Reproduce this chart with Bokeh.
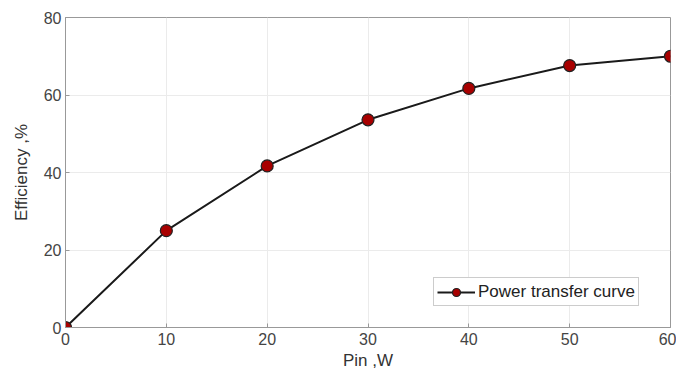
from bokeh.plotting import figure
from bokeh.models import Range1d, FixedTicker, Legend, LegendItem
from bokeh.embed import file_html
from bokeh.resources import INLINE

pin_w = [0, 10, 20, 30, 40, 50, 60]
efficiency = [0, 25, 41.7, 53.6, 61.7, 67.6, 70]
x_ticks = [0, 10, 20, 30, 40, 50, 60]
y_ticks = [0, 20, 40, 60, 80]

p = figure(width=676, height=373, output_backend="svg", toolbar_location=None,
           x_range=Range1d(0, 60), y_range=Range1d(0, 80),
           min_border_left=65, min_border_right=6, min_border_top=17, min_border_bottom=46)

p.background_fill_color = "white"
p.border_fill_color = "white"
p.outline_line_color = "#999999"
p.outline_line_width = 1

line = p.line(pin_w, efficiency, line_color="#1a1a1a", line_width=2)
pts = p.scatter(pin_w, efficiency, size=12, fill_color="#a80000", line_color="#222222", line_width=1.2)

for ax in (p.xaxis[0], p.yaxis[0]):
    ax.axis_line_color = "#999999"
    ax.major_tick_in = 4
    ax.major_tick_out = 0
    ax.minor_tick_line_color = None
    ax.major_tick_line_color = "#999999"
    ax.major_label_text_font = "Liberation Sans"
    ax.major_label_text_font_size = "16px"
    ax.major_label_text_color = "#444444"
    ax.axis_label_text_font = "Liberation Sans"
    ax.axis_label_text_font_size = "17px"
    ax.axis_label_text_font_style = "normal"
    ax.axis_label_text_color = "#333333"

p.xaxis.ticker = FixedTicker(ticks=x_ticks)
p.yaxis.ticker = FixedTicker(ticks=y_ticks)
p.xaxis.axis_label = "Pin ,W"
p.yaxis.axis_label = "Efficiency ,%"
p.xaxis.axis_label_standoff = 3
p.yaxis.axis_label_standoff = 10
p.xaxis.major_label_standoff = 5
p.yaxis.major_label_standoff = 4

p.xgrid.grid_line_color = "#ebebeb"
p.ygrid.grid_line_color = "#ebebeb"

legend = Legend(items=[LegendItem(label="Power transfer curve", renderers=[line, pts])],
                location=(368, 21))
legend.label_text_font = "Liberation Sans"
legend.label_text_font_size = "17px"
legend.label_text_color = "#222222"
legend.border_line_color = "#999999"
legend.border_line_width = 1
legend.padding = 3
legend.margin = 0
legend.spacing = 0
legend.glyph_width = 38
legend.label_standoff = 3
legend.label_height = 21
legend.background_fill_alpha = 1
p.add_layout(legend)

open("out.html", "w").write(file_html(p, INLINE))
